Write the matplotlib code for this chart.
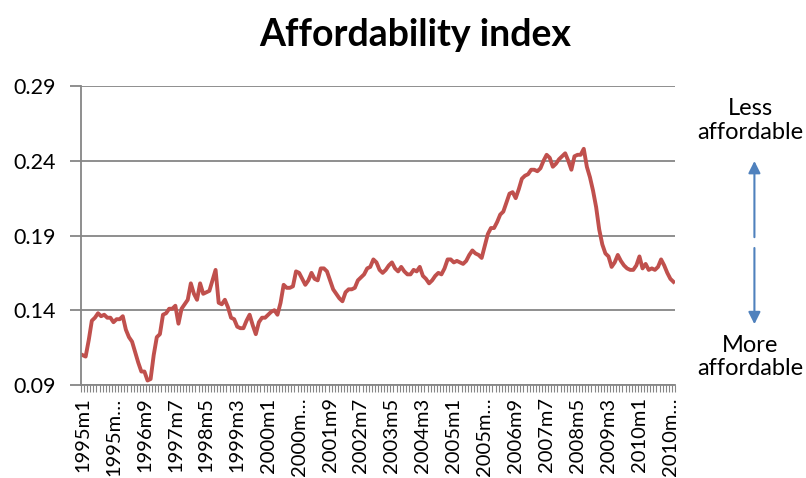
import matplotlib.pyplot as plt
import numpy as np

plt.rcParams['font.family'] = ['Lato', 'DejaVu Sans']

# monthly affordability index, 1995m1 .. 2010m12
index = [
    0.110, 0.109, 0.120, 0.133, 0.135, 0.138, 0.136, 0.137, 0.135, 0.135, 0.132, 0.134,  # 1995
    0.134, 0.136, 0.127, 0.122, 0.119, 0.112, 0.105, 0.099, 0.099, 0.093, 0.094, 0.110,  # 1996
    0.122, 0.124, 0.137, 0.138, 0.141, 0.141, 0.143, 0.131, 0.141, 0.144, 0.147, 0.158,  # 1997
    0.151, 0.147, 0.158, 0.151, 0.152, 0.153, 0.160, 0.167, 0.145, 0.144, 0.147, 0.142,  # 1998
    0.135, 0.134, 0.129, 0.128, 0.128, 0.133, 0.137, 0.130, 0.124, 0.132, 0.135, 0.135,  # 1999
    0.137, 0.139, 0.140, 0.137, 0.145, 0.157, 0.155, 0.155, 0.156, 0.166, 0.165, 0.161,  # 2000
    0.157, 0.160, 0.165, 0.161, 0.160, 0.168, 0.168, 0.166, 0.160, 0.154, 0.151, 0.148,  # 2001
    0.146, 0.152, 0.154, 0.154, 0.155, 0.160, 0.162, 0.164, 0.168, 0.169, 0.174, 0.172,  # 2002
    0.167, 0.165, 0.167, 0.170, 0.172, 0.168, 0.166, 0.169, 0.166, 0.164, 0.164, 0.167,  # 2003
    0.166, 0.169, 0.163, 0.161, 0.158, 0.160, 0.163, 0.165, 0.164, 0.168, 0.174, 0.174,  # 2004
    0.172, 0.173, 0.172, 0.171, 0.173, 0.177, 0.180, 0.178, 0.177, 0.175, 0.183, 0.191,  # 2005
    0.195, 0.195, 0.199, 0.204, 0.206, 0.212, 0.218, 0.219, 0.215, 0.221, 0.228, 0.230,  # 2006
    0.231, 0.234, 0.234, 0.233, 0.235, 0.240, 0.244, 0.242, 0.236, 0.238, 0.241, 0.243,  # 2007
    0.245, 0.240, 0.234, 0.243, 0.244, 0.244, 0.248, 0.236, 0.229, 0.220, 0.209, 0.194,  # 2008
    0.184, 0.178, 0.176, 0.169, 0.172, 0.177, 0.173, 0.170, 0.168, 0.167, 0.167, 0.170,  # 2009
    0.176, 0.168, 0.171, 0.167, 0.168, 0.167, 0.169, 0.174, 0.170, 0.165, 0.161, 0.159,  # 2010
]

tick_labels = ['1995m1', '1995m…', '1996m9', '1997m7', '1998m5', '1999m3', '2000m1',
               '2000m…', '2001m9', '2002m7', '2003m5', '2004m3', '2005m1', '2005m…',
               '2006m9', '2007m7', '2008m5', '2009m3', '2010m1', '2010m…']

x = np.arange(len(index))

fig = plt.figure(figsize=(8.06, 4.78), dpi=100)
ax = fig.add_axes([0.1005, 0.1946, 0.737, 0.6254])

ax.plot(x, index, color='#C0504D', lw=2.8, solid_joinstyle='round')

ax.set_ylim(0.09, 0.29)
ax.set_yticks(np.arange(0.09, 0.2901, 0.05))
ax.set_yticklabels(['%.2f' % v for v in np.arange(0.09, 0.2901, 0.05)], fontsize=15.5)
ax.grid(axis='y', color='#868686', lw=1.3)
ax.set_axisbelow(True)

ax.set_xlim(-0.5, len(index) - 0.5)
ax.set_xticks(x[::10])
ax.set_xticklabels(tick_labels, rotation=90, fontsize=14.5)
ax.set_xticks(np.arange(-0.5, len(index), 1), minor=True)
ax.tick_params(axis='x', which='major', length=0, pad=9)
ax.tick_params(axis='x', which='minor', length=5, color='#868686', width=0.8)
ax.tick_params(axis='y', length=8, color='#868686', width=1.3, pad=10)

for s in ['top', 'right']:
    ax.spines[s].set_visible(False)
for s in ['left', 'bottom']:
    ax.spines[s].set_color('#868686')
    ax.spines[s].set_linewidth(1.3)

fig.text(0.515, 0.927, 'Affordability index', ha='center', va='center',
         fontsize=27, fontweight='bold')

# direction arrows
arrow = dict(arrowstyle='-|>', color='#4F81BD', lw=1.5, mutation_scale=18)
ax.annotate('', xy=(0.936, 0.669), xytext=(0.936, 0.498),
            xycoords='figure fraction', textcoords='figure fraction', arrowprops=arrow)
ax.annotate('', xy=(0.936, 0.316), xytext=(0.936, 0.487),
            xycoords='figure fraction', textcoords='figure fraction', arrowprops=arrow)
fig.text(0.931, 0.748, 'Less\naffordable', ha='center', va='center',
         fontsize=17, linespacing=1.15)
fig.text(0.931, 0.253, 'More\naffordable', ha='center', va='center',
         fontsize=17, linespacing=1.15)

plt.savefig('out.png', dpi=100)
